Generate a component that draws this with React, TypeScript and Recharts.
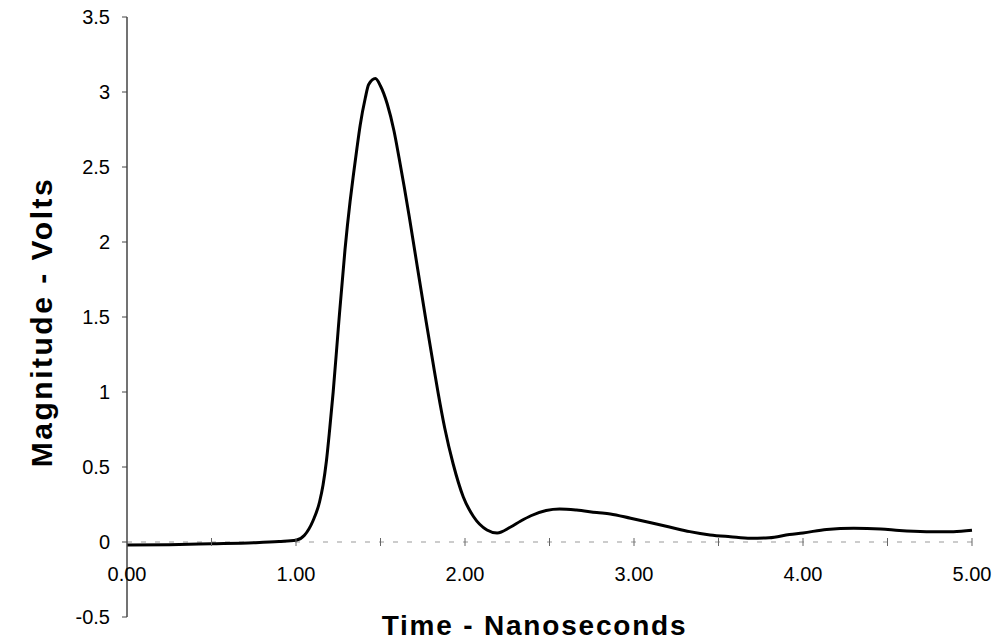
import { LineChart, Line, XAxis, YAxis, ReferenceLine, Label } from "recharts";

// time in nanoseconds
const times = [
  0, 0.25, 0.5, 0.75, 0.9, 1.0, 1.05, 1.1, 1.14, 1.16, 1.18, 1.2, 1.22, 1.25,
  1.29, 1.32, 1.34, 1.36, 1.38, 1.41, 1.43, 1.47, 1.5, 1.54, 1.58, 1.61, 1.64,
  1.67, 1.7, 1.74, 1.77, 1.81, 1.84, 1.88, 1.93, 1.99, 2.05, 2.13, 2.19, 2.27,
  2.33, 2.39, 2.48, 2.56, 2.66, 2.78, 2.86, 2.98, 3.1, 3.21, 3.33, 3.45, 3.57,
  3.69, 3.8, 3.92, 4.0, 4.14, 4.3, 4.46, 4.57, 4.73, 4.89, 5.0,
];

// magnitude in volts
const volts = [
  -0.02, -0.018, -0.012, -0.005, 0.003, 0.012, 0.045, 0.14, 0.27, 0.38, 0.54,
  0.76, 1.0, 1.42, 1.95, 2.27, 2.45, 2.62, 2.78, 2.96, 3.05, 3.09, 3.04, 2.92,
  2.74, 2.56, 2.37, 2.17, 1.96, 1.68, 1.47, 1.2, 1.0, 0.76, 0.52, 0.3, 0.17,
  0.08, 0.06, 0.1, 0.14, 0.175, 0.21, 0.22, 0.213, 0.196, 0.187, 0.158, 0.128,
  0.1, 0.069, 0.047, 0.035, 0.025, 0.028, 0.05, 0.06, 0.084, 0.091, 0.087,
  0.076, 0.069, 0.069, 0.078,
];

const xTicks = [0, 0.5, 1, 1.5, 2, 2.5, 3, 3.5, 4, 4.5, 5];
const yTicks = [-0.5, 0, 0.5, 1, 1.5, 2, 2.5, 3, 3.5];

const data = times.map((t, i) => ({ t, v: volts[i] }));

const FONT = "'Liberation Sans', Arial, sans-serif";
const PLOT_H = 600;
const Y_MIN = -0.5;
const Y_MAX = 3.5;
// distance from the plot bottom up to the y=0 line, where the x ticks sit
const ZERO_UP = (PLOT_H * (0 - Y_MIN)) / (Y_MAX - Y_MIN);

const XTick = (props: any) => {
  const { x, y, payload } = props;
  const zy = y - ZERO_UP;
  const v = payload.value as number;
  return (
    <g>
      {v > 0 && (
        <line x1={x} x2={x} y1={zy - 4} y2={zy + 4} stroke="#666" strokeWidth={1} />
      )}
      {Number.isInteger(v) && (
        <text
          x={x}
          y={zy + 32}
          dy="0.35em"
          textAnchor="middle"
          fontSize={20}
          fontFamily={FONT}
          fill="#000"
        >
          {v.toFixed(2)}
        </text>
      )}
    </g>
  );
};

export default function App() {
  return (
    <div style={{ position: "absolute", left: 0, top: 0, background: "#fff" }}>
      <LineChart
        width={996}
        height={642}
        data={data}
        margin={{ top: 17, right: 24, bottom: 0, left: 0 }}
      >
        <XAxis
          dataKey="t"
          type="number"
          domain={[0, 5]}
          ticks={xTicks}
          axisLine={false}
          tickLine={false}
          tickSize={0}
          tickMargin={0}
          height={25}
          tick={<XTick />}
          interval={0}
        >
          <Label
            value="Time - Nanoseconds"
            position="insideBottom"
            offset={7}
            dx={-15}
            style={{
              fontSize: 28,
              fontWeight: "bold",
              fill: "#000",
              fontFamily: FONT,
              letterSpacing: 1.8,
            }}
          />
        </XAxis>
        <YAxis
          type="number"
          domain={[Y_MIN, Y_MAX]}
          ticks={yTicks}
          width={127}
          tickSize={5}
          tickMargin={12}
          interval={0}
          axisLine={{ stroke: "#444", strokeWidth: 1.5 }}
          tickLine={{ stroke: "#444" }}
          tick={{ fill: "#000", fontSize: 20, fontFamily: FONT }}
        >
          <Label
            value="Magnitude - Volts"
            angle={-90}
            position="insideLeft"
            offset={41}
            dy={5}
            style={{
              textAnchor: "middle",
              fontSize: 30,
              fontWeight: "bold",
              fill: "#000",
              fontFamily: FONT,
              letterSpacing: 2.5,
            }}
          />
        </YAxis>
        <ReferenceLine y={0} stroke="#999" strokeDasharray="5 9" />
        <Line
          type="monotone"
          dataKey="v"
          stroke="#000"
          strokeWidth={3}
          dot={false}
          isAnimationActive={false}
        />
      </LineChart>
    </div>
  );
}
